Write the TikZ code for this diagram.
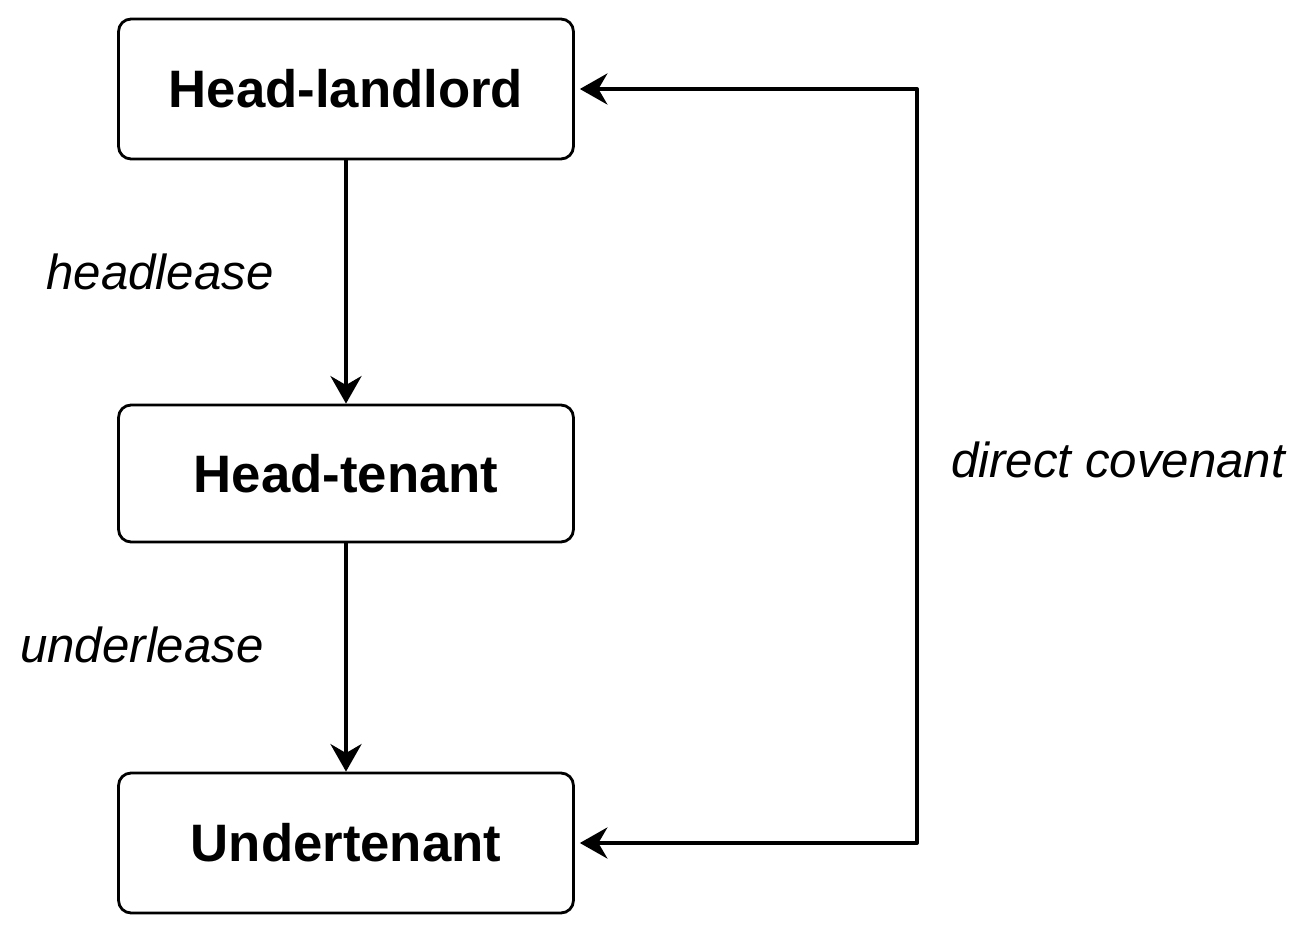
\documentclass[tikz,border=0pt]{standalone}
\usepackage{fontspec}
\setmainfont{Liberation Sans}
\usetikzlibrary{positioning, arrows.meta}
\tikzset{
    party/.style={draw, line width=1.6pt, rounded corners=0.25cm, minimum width=9.1cm,
        minimum height=2.8cm, font=\fontsize{30}{36}\selectfont\bfseries},
    link/.style={line width=2.2pt, -{Stealth[length=0.55cm, width=0.62cm]}},
    lbl/.style={font=\fontsize{28}{34}\selectfont\itshape}
}
\begin{document}
\begin{tikzpicture}[x=0.02cm, y=-0.02cm]
    \useasboundingbox (0,0) rectangle (1312,932);
    % parties
    \node[party] (landlord) at (346,89) {Head-landlord};
    \node[party, minimum height=2.74cm] (tenant) at (346,473.5) {Head-tenant};
    \node[party] (under) at (346,843) {Undertenant};
    % leases
    \draw[link] (landlord) -- (tenant);
    \draw[link] (tenant) -- (under);
    \node[lbl] (headlease) at (160,272) {headlease};
    \node[lbl] (underlease) at (142,645) {underlease};
    % covenant
    \coordinate (top) at (917,89);
    \coordinate (bot) at (917,843);
    \draw[link, {Stealth[length=0.55cm, width=0.62cm]}-{Stealth[length=0.55cm, width=0.62cm]}, line join=round]
        ([xshift=0.1cm]landlord.east) -- (top) -- (bot) -- ([xshift=0.1cm]under.east);
    \node[lbl] (covenant) at (1118,460) {direct covenant};
\end{tikzpicture}
\end{document}
